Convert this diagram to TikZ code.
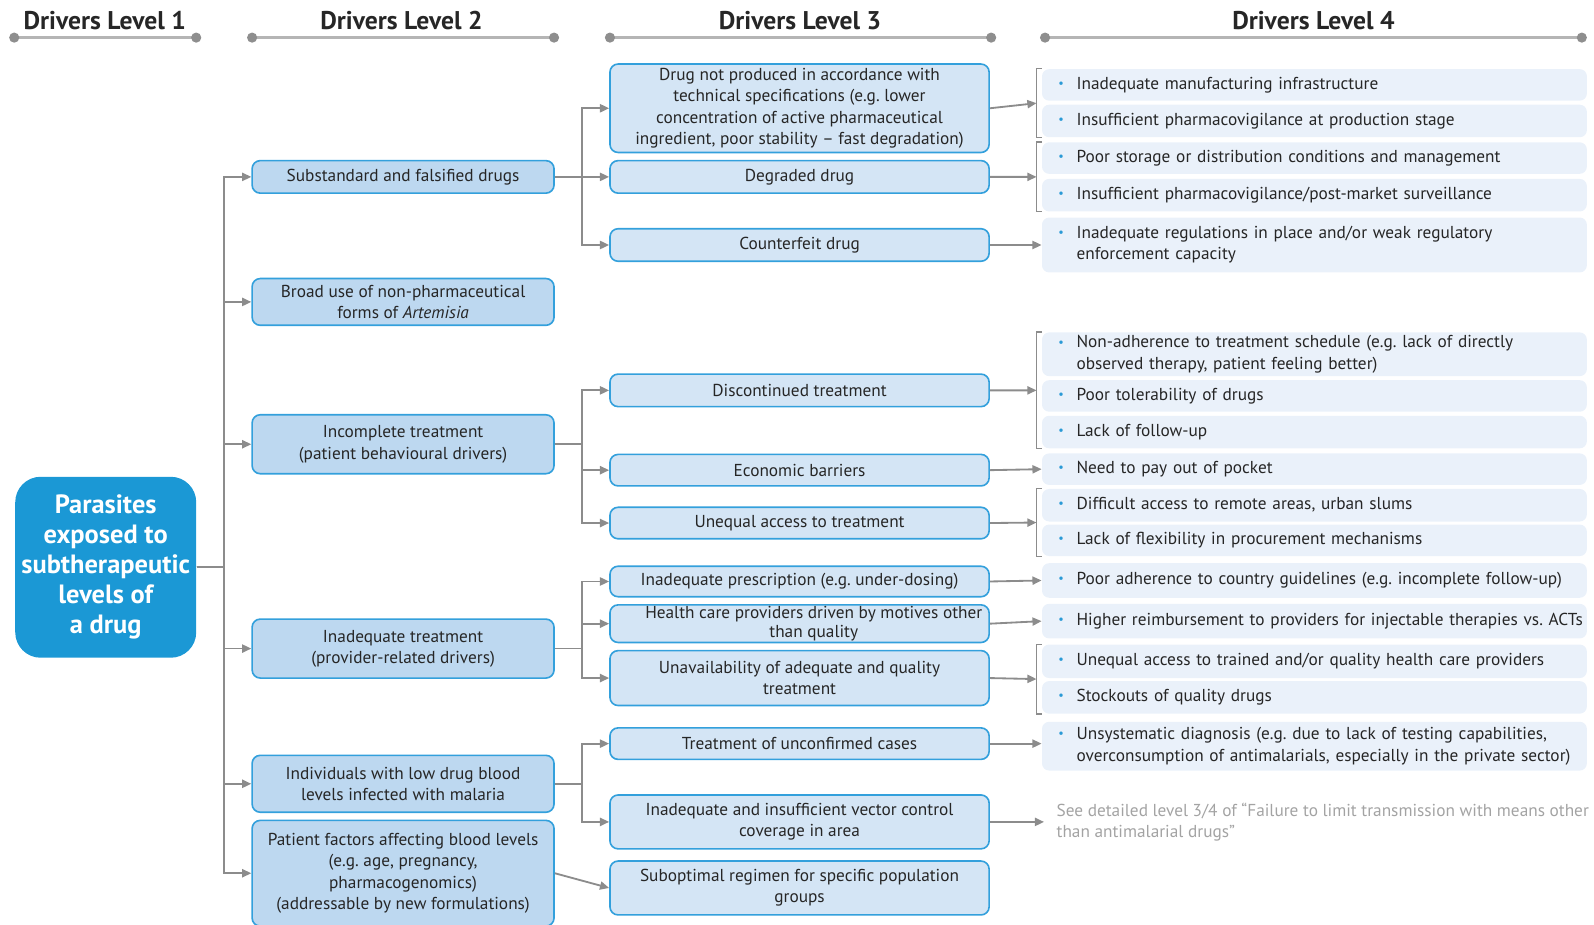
\documentclass[tikz,border=0pt]{standalone}
\usepackage{fontspec}
\setmainfont{PT Sans}
\usetikzlibrary{arrows.meta,calc}
\frenchspacing

\definecolor{rootfill}{HTML}{1B98D5}
\definecolor{edge}{HTML}{33A0DC}
\definecolor{ltwofill}{HTML}{BDD8F0}
\definecolor{lthreefill}{HTML}{D4E5F5}
\definecolor{lfourfill}{HTML}{EAF1FA}
\definecolor{txt}{HTML}{262626}
\definecolor{conn}{HTML}{8C8C8C}
\definecolor{bulc}{HTML}{2A9AD6}
\definecolor{notetxt}{HTML}{A3A3A3}
\definecolor{headline}{HTML}{B5B5B5}
\definecolor{headdot}{HTML}{8E8E8E}

% bullet item for the level-4 boxes: bullet, then lines stacked under the first one
\newcommand\bitem[1]{\makebox[10.5pt][l]{\hspace{1.5pt}\textcolor{bulc}{\fontsize{6}{6}\selectfont\raisebox{0.9pt}{•}}}\begin{tabular}[t]{@{}l@{}}#1\end{tabular}}

\tikzset{
  bodyfont/.style={font=\fontsize{8.5}{10.5}\selectfont},
  base/.style={rectangle, rounded corners=4pt, align=center, inner sep=0pt, text=txt, bodyfont},
  rootbox/.style={rectangle, rounded corners=12.5pt, fill=rootfill, text=white, align=center,
    inner sep=0pt, minimum width=89pt, minimum height=89pt,
    font=\fontsize{13}{14.75}\selectfont\bfseries},
  ltwobox/.style={base, draw=edge, line width=0.8pt, fill=ltwofill, minimum width=148.5pt},
  lthreebox/.style={base, draw=edge, line width=0.8pt, fill=lthreefill, minimum width=186.5pt},
  lfourbox/.style={rectangle, rounded corners=3.5pt, fill=lfourfill, text=txt, bodyfont,
    minimum width=268pt, text width=255pt, inner xsep=6.5pt, inner ysep=0pt, align=left},
  notebox/.style={text=notetxt, bodyfont, align=left, inner xsep=6pt, inner ysep=0pt},
  headtext/.style={text=txt, font=\fontsize{12.6}{14}\selectfont\bfseries, inner sep=0pt},
  arr/.style={draw=conn, line width=0.9pt, -{Triangle[length=4.5pt,width=4pt]}},
  bracket/.style={draw=conn, line width=0.6pt},
}

\begin{document}
\begin{tikzpicture}[x=0.5pt,y=-0.5pt]
\useasboundingbox (0,0) rectangle (1568,909);
\clip (0,0) rectangle (1568,909);

% column headers with their rules
\foreach \cx/\a/\b/\n in {103/14/193/1, 395/248/545/2, 787/600/975/3, 1292/1028/1556/4}{
  \node[headtext] (h\n) at (\cx,20) {Drivers Level \n};
  \draw[headline, line width=1.1pt] (\a,37) -- (\b,37);
  \fill[headdot] (\a,37) circle (2.5pt) (\b,37) circle (2.5pt);
}

% level 1
\node[rootbox] (root) at (104,558) {Parasites\\exposed to\\subtherapeutic\\levels of\\a drug};

% level 2
\node[ltwobox, minimum height=16pt] (s1) at (396.5,174) {Substandard and falsified drugs};
\node[ltwobox, minimum height=23pt] (s2) at (396.5,297) {Broad use of non-pharmaceutical\\forms of \textit{Artemisia}};
\node[ltwobox, minimum height=29pt] (s3) at (396.5,437) {Incomplete treatment\\(patient behavioural drivers)};
\node[ltwobox, minimum height=29pt] (s4) at (396.5,638) {Inadequate treatment\\(provider-related drivers)};
\node[ltwobox, minimum height=28pt] (s5) at (396.5,771) {Individuals with low drug blood\\levels infected with malaria};
\node[ltwobox, minimum height=52pt] (s6) at (396.5,859) {Patient factors affecting blood levels\\(e.g. age, pregnancy,\\pharmacogenomics)\\(addressable by new formulations)};

% level 3
\node[lthreebox, minimum height=43.5pt] (t1) at (786.5,106.5) {Drug not produced in accordance with\\technical specifications (e.g. lower\\concentration of active pharmaceutical\\ingredient, poor stability -- fast degradation)};
\node[lthreebox, minimum height=16pt] (t2) at (786.5,174) {Degraded drug};
\node[lthreebox, minimum height=16pt] (t3) at (786.5,241) {Counterfeit drug};
\node[lthreebox, minimum height=16pt] (t4) at (786.5,384) {Discontinued treatment};
\node[lthreebox, minimum height=15.5pt] (t5) at (786.5,462.5) {Economic barriers};
\node[lthreebox, minimum height=15.5pt] (t6) at (786.5,514.5) {Unequal access to treatment};
\node[lthreebox, minimum height=15pt] (t7) at (786.5,572) {Inadequate prescription (e.g. under-dosing)};
\node[lthreebox, minimum height=18.5pt, font=\fontsize{8.5}{9}\selectfont] (t8) at (786.5,613.5) {\hspace*{14pt}Health care providers driven by motives other\\\hspace*{14pt}than quality};
\node[lthreebox, minimum height=27pt] (t9) at (786.5,667) {Unavailability of adequate and quality\\treatment};
\node[lthreebox, minimum height=15.5pt] (t10) at (786.5,731.5) {Treatment of unconfirmed cases};
\node[lthreebox, minimum height=26.5pt] (t11) at (786.5,808.5) {Inadequate and insufficient vector control\\coverage in area};
\node[lthreebox, minimum height=26.5pt] (t12) at (786.5,873.5) {Suboptimal regimen for specific population\\groups};

% level 4
\node[lfourbox, minimum height=15.5pt] (f1) at (1293,83.5) {\bitem{Inadequate manufacturing infrastructure}};
\node[lfourbox, minimum height=16pt] (f2) at (1293,119) {\bitem{Insufficient pharmacovigilance at production stage}};
\node[lfourbox, minimum height=15.5pt] (f3) at (1293,155.5) {\bitem{Poor storage or distribution conditions and management}};
\node[lfourbox, minimum height=16pt] (f4) at (1293,192) {\bitem{Insufficient pharmacovigilance/post-market surveillance}};
\node[lfourbox, minimum height=27pt] (f5) at (1293,241) {\bitem{Inadequate regulations in place and/or weak regulatory\\enforcement capacity}};
\node[lfourbox, minimum height=21.5pt] (f6) at (1293,348.5) {\bitem{Non-adherence to treatment schedule (e.g. lack of directly\\observed therapy, patient feeling better)}};
\node[lfourbox, minimum height=15.5pt] (f7) at (1293,389.5) {\bitem{Poor tolerability of drugs}};
\node[lfourbox, minimum height=16pt] (f8) at (1293,425) {\bitem{Lack of follow-up}};
\node[lfourbox, minimum height=15.5pt] (f9) at (1293,461.5) {\bitem{Need to pay out of pocket}};
\node[lfourbox, minimum height=16pt] (f10) at (1293,497) {\bitem{Difficult access to remote areas, urban slums}};
\node[lfourbox, minimum height=15.5pt] (f11) at (1293,531.5) {\bitem{Lack of flexibility in procurement mechanisms}};
\node[lfourbox, minimum height=17pt] (f12) at (1293,571) {\bitem{Poor adherence to country guidelines (e.g. incomplete follow-up)}};
\node[lfourbox, minimum height=17pt] (f13) at (1293,611) {\bitem{Higher reimbursement to providers for injectable therapies vs. ACTs}};
\node[lfourbox, minimum height=16.5pt] (f14) at (1293,650.5) {\bitem{Unequal access to trained and/or quality health care providers}};
\node[lfourbox, minimum height=16pt] (f15) at (1293,686) {\bitem{Stockouts of quality drugs}};
\node[lfourbox, minimum height=24pt] (f16) at (1293,734) {\bitem{Unsystematic diagnosis (e.g. due to lack of testing capabilities,\\overconsumption of antimalarials, especially in the private sector)}};
\node[notebox, anchor=west] (g1) at (1027,808.5) {See detailed level 3/4 of “Failure to limit transmission with means other\\than antimalarial drugs”};

% brackets grouping level-4 items
\foreach \a/\b/\k in {f1/f2/k1, f3/f4/k2, f6/f8/k3, f10/f11/k4, f14/f15/k5}{
  \draw[bracket] (\a.north west) -- ++(-5,0) |- (\b.south west);
  \coordinate (\k) at ($(\a.north west)!0.5!(\b.south west)+(-5,0)$);
}

% level 1 -> level 2
\foreach \s in {s1,s2,s3,s4,s5,s6}
  \draw[arr] (root.east) -- ++(27,0) |- (\s.west);

% level 2 -> level 3
\foreach \t in {t1,t2,t3} \draw[arr] (s1.east) -- ++(27,0) |- (\t.west);
\foreach \t in {t4,t5,t6} \draw[arr] (s3.east) -- ++(27,0) |- (\t.west);
\foreach \t in {t7,t8,t9} \draw[arr] (s4.east) -- ++(27,0) |- (\t.west);
\foreach \t in {t10,t11} \draw[arr] (s5.east) -- ++(27,0) |- (\t.west);
\draw[arr] (s6.east) -- (t12.west);

% level 3 -> level 4
\draw[arr] (t1.east) -- (k1);
\draw[arr] (t2.east) -- (k2);
\draw[arr] (t3.east) -- (f5.west);
\draw[arr] (t4.east) -- (k3);
\draw[arr] (t5.east) -- (f9.west);
\draw[arr] (t6.east) -- (k4);
\draw[arr] (t7.east) -- (f12.west);
\draw[arr] (t8.east) -- (f13.west);
\draw[arr] (t9.east) -- (k5);
\draw[arr] (t10.east) -- (t10.east -| f16.west);
\draw[arr] (t11.east) -- (g1.west);
\end{tikzpicture}
\end{document}
